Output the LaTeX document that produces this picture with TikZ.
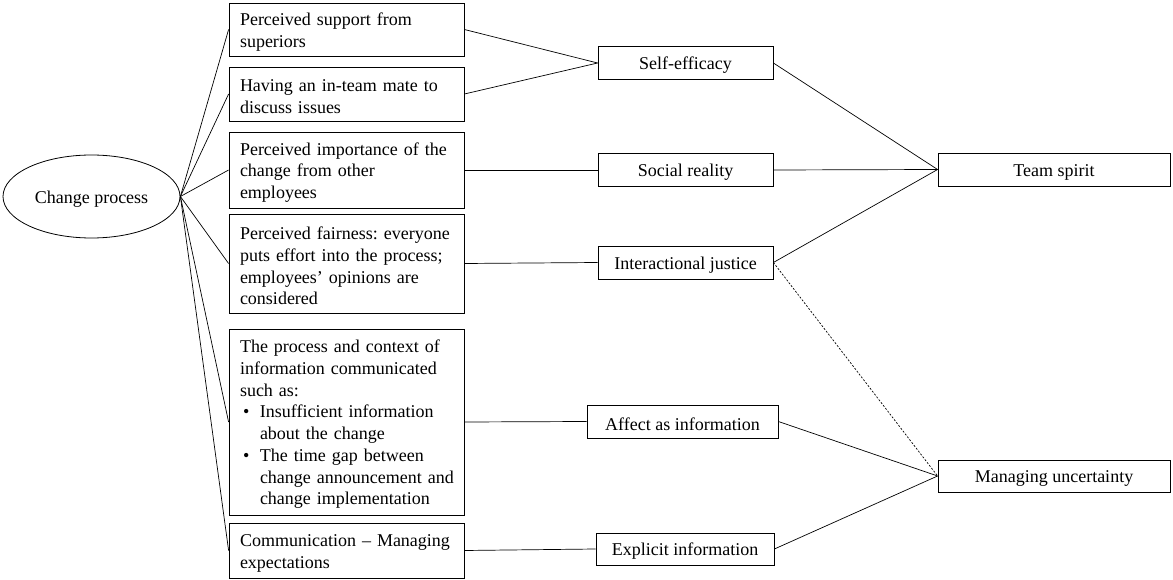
\documentclass[tikz,border=0pt]{standalone}
\usepackage{fontspec}
\setmainfont{Liberation Serif}
\usetikzlibrary{shapes.geometric}
\frenchspacing
\begin{document}
\begin{tikzpicture}[x=1pt,y=-1pt,
  every node/.style={font=\fontsize{18}{21.7}\selectfont,
    execute at begin node={\frenchspacing\rule{0pt}{17.5pt}}},
  factor/.style={draw, line width=0.8pt, align=left, text width=213pt,
    inner xsep=11pt, inner ysep=0pt, anchor=center},
  mech/.style={draw, line width=0.8pt, align=center, inner sep=0pt,
    minimum height=33pt, anchor=center},
  outcome/.style={draw, line width=0.8pt, align=center, inner sep=0pt,
    minimum width=232pt, minimum height=33pt, anchor=center},
  link/.style={line width=0.7pt},
  weak/.style={line width=0.7pt, dash pattern=on 2pt off 1.6pt}]
\useasboundingbox (0,0) rectangle (1173,580);

% source of all factors
\node[draw, line width=0.8pt, ellipse, minimum width=177pt, minimum height=83pt, inner sep=0pt]
  (cp) at (91.5,196.5) {Change process};

% perceived factors
\node[factor, minimum height=53pt] (b1) at (346.5,29.5)
  {Perceived support from\\superiors};
\node[factor, minimum height=54pt] (b2) at (346.5,94)
  {Having an in-team mate to\\discuss issues};
\node[factor, minimum height=76pt] (b3) at (346.5,170)
  {Perceived importance of the\\change from other\\employees};
\node[factor, minimum height=99pt] (b4) at (346.5,263.5)
  {Perceived fairness: everyone\\puts effort into the process;\\employees’ opinions are\\considered};
\node[factor, minimum height=186pt] (b5) at (346.5,422)
  {The process and context of\\information communicated\\such as:\\
   \hspace*{3pt}\makebox[17pt][l]{•}Insufficient information\\
   \hspace*{20pt}about the change\\
   \hspace*{3pt}\makebox[17pt][l]{•}The time gap between\\
   \hspace*{20pt}\mbox{change announcement and}\\
   \hspace*{20pt}change implementation};
\node[factor, minimum height=55pt] (b6) at (346.5,550.5)
  {Communication – Managing\\expectations};

% mechanisms
\node[mech, minimum width=175pt] (se) at (685.5,63) {Self-efficacy};
\node[mech, minimum width=175pt] (sr) at (685.5,170) {Social reality};
\node[mech, minimum width=175pt] (ij) at (685.5,262.5) {Interactional justice};
\node[mech, minimum width=191pt] (ai) at (682.5,421.5) {Affect as information};
\node[mech, minimum width=178pt, minimum height=32pt] (ei) at (685,549) {Explicit information};

% outcomes
\node[outcome] (ts) at (1054,169.5) {Team spirit};
\node[outcome, minimum height=32pt] (mu) at (1054,476) {Managing uncertainty};

% change process to factors
\foreach \b in {b1,b2,b3,b4,b5,b6}
  \draw[link] (cp.east) -- (\b.west);

% factors to mechanisms
\draw[link] (b1.east) -- (se.west);
\draw[link] (b2.east) -- (se.west);
\draw[link] (b3.east) -- (sr.west);
\draw[link] (b4.east) -- (ij.west);
\draw[link] (b5.east) -- (ai.west);
\draw[link] (b6.east) -- (ei.west);

% mechanisms to outcomes
\draw[link] (se.east) -- (ts.west);
\draw[link] (sr.east) -- (ts.west);
\draw[link] (ij.east) -- (ts.west);
\draw[weak] (ij.east) -- (mu.west);
\draw[link] (ai.east) -- (mu.west);
\draw[link] (ei.east) -- (mu.west);
\end{tikzpicture}
\end{document}
